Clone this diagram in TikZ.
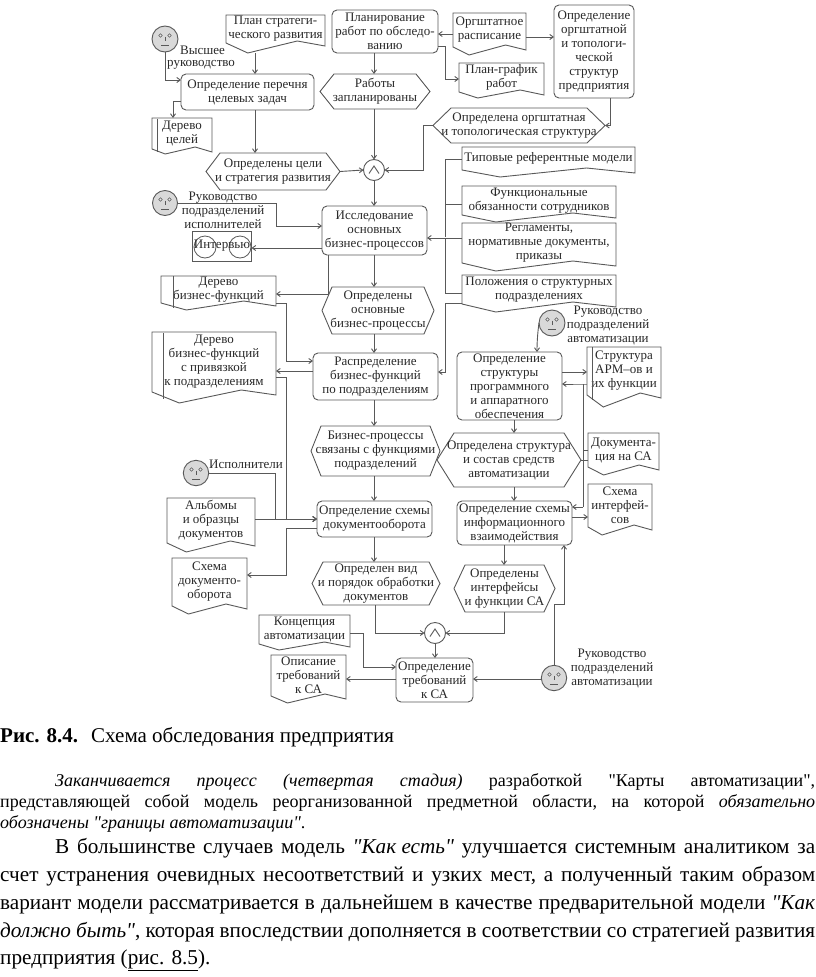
\documentclass[tikz,border=0pt]{standalone}
\usepackage{fontspec}
\setmainfont{Liberation Serif}
\newfontfamily\qfont{Liberation Serif}
\usetikzlibrary{arrows.meta,calc}
\definecolor{ln}{gray}{0.35}
\definecolor{tx}{gray}{0.16}
\definecolor{fc}{gray}{0.85}
\newcommand{\qq}{{\qfont\char34}}
\tikzset{
 shp/.style={draw=ln,line width=0.9pt,line join=miter},
 anch/.style={inner sep=0pt,outer sep=0pt},
 txt/.style={text=tx,align=center,inner sep=0pt,font=\fontsize{13}{14}\selectfont},
 ltxt/.style={text=tx,align=left,inner sep=0pt,font=\fontsize{13}{14}\selectfont},
 roundbox/.style={shp,rounded corners=5pt,inner sep=0pt,outer sep=0pt,text=tx,align=center,font=\fontsize{13}{14}\selectfont},
 con/.style={draw=ln,line width=0.9pt,-{Straight Barb[length=3.5pt,width=5pt]}},
 plain/.style={draw=ln,line width=0.9pt},
 body/.style={anchor=west,inner sep=0pt,font=\fontsize{21.2}{23}\selectfont,text=black},
 small/.style={anchor=west,inner sep=0pt,font=\fontsize{18}{20}\selectfont,text=black},
}
% document shape: [dip]{name}{x1}{y1}{x2}{y2}{text}
\newcommand{\Doc}[7][6]{%
 \pgfmathsetmacro\dw{#5-#3}\pgfmathsetmacro\dh{#6-#4}
 \pgfmathsetmacro\dcx{(#3+#5)/2}\pgfmathsetmacro\dcy{(#4+#6)/2}
 \pgfmathsetmacro\dty{(#4+#6-#1)/2}
 \pgfmathsetmacro\dxa{#3+0.22*\dw}\pgfmathsetmacro\dxb{#3+0.72*\dw}
 \pgfmathsetmacro\dyb{#6-#1}\pgfmathsetmacro\dyc{#6-#1-2}\pgfmathsetmacro\dyd{#6-#1+3}
 \node[anch,minimum width=\dw pt,minimum height=\dh pt] (#2) at (\dcx,\dcy) {};
 \draw[shp] (#3,#4) -- (#5,#4) -- (#5,\dyd) -- (\dxb,\dyc) -- (\dxa,#6) -- (#3,\dyb) -- cycle;
 \node[txt] (#2-t) at (\dcx,\dty) {#7};
}
% hexagon: [inset]{name}{x1}{y1}{x2}{y2}{text}
\newcommand{\Hex}[7][14]{%
 \pgfmathsetmacro\dw{#5-#3}\pgfmathsetmacro\dh{#6-#4}
 \pgfmathsetmacro\dcx{(#3+#5)/2}\pgfmathsetmacro\dcy{(#4+#6)/2}
 \pgfmathsetmacro\dxa{#3+#1}\pgfmathsetmacro\dxb{#5-#1}
 \node[anch,minimum width=\dw pt,minimum height=\dh pt] (#2) at (\dcx,\dcy) {};
 \draw[shp] (#3,\dcy) -- (\dxa,#4) -- (\dxb,#4) -- (#5,\dcy) -- (\dxb,#6) -- (\dxa,#6) -- cycle;
 \node[txt] (#2-t) at (\dcx,\dcy) {#7};
}
% rounded function box: {name}{x1}{y1}{x2}{y2}{text}
\newcommand{\Fn}[6]{%
 \pgfmathsetmacro\dw{#4-#2}\pgfmathsetmacro\dh{#5-#3}
 \pgfmathsetmacro\dcx{(#2+#4)/2}\pgfmathsetmacro\dcy{(#3+#5)/2}
 \node[roundbox,draw,minimum width=\dw pt,minimum height=\dh pt] (#1) at (\dcx,\dcy) {#6};
}
% face: {name}{cx}{cy}{r}
\newcommand{\Face}[4]{%
 \node[circle,draw=ln,fill=fc,line width=0.9pt,minimum size=#4*2pt,inner sep=0pt,outer sep=0pt] (#1) at (#2,#3) {};
 \fill[fc!60!white,draw=ln,line width=0.6pt] ($(#1)+(-4.5,-3.5)$) circle (1.7pt) ($(#1)+(4.5,-3.5)$) circle (1.7pt);
 \draw[ln,line width=0.7pt] ($(#1)+(0,-2.5)$) -- ($(#1)+(0,2)$) ($(#1)+(-4,6)$) -- ($(#1)+(4,6)$);
}
% AND connector
\newcommand{\Andc}[3]{%
 \node[circle,draw=ln,line width=0.9pt,minimum size=21pt,inner sep=0pt,outer sep=0pt] (#1) at (#2,#3) {};
 \draw[ln,line width=0.9pt] ($(#1)+(-5,3.5)$) -- ($(#1)+(0,-4)$) -- ($(#1)+(5,3.5)$);
}
\begin{document}
\begin{tikzpicture}[x=1pt,y=-1pt]
\useasboundingbox (0,0) rectangle (816,977);
\fill[white] (0,0) rectangle (816,977);
% ---- shapes
\Face{f1}{165}{39}{13}
\node[ltxt,anchor=west] (f1a) at (180,50) {Высшее};
\node[ltxt,anchor=west] (f1b) at (167,65) {руководство};
\Doc[10]{plan}{226}{15}{325}{53}{План стратеги-\\ческого развития}
\Fn{pr}{332}{10}{438}{53}{Планирование\\работ по обследо-\\ванию}
\Doc[8]{orgsh}{453}{13}{526}{55}{Оргштатное\\расписание}
\Fn{orgt}{554}{5}{634}{98}{Определение\\оргштатной\\и топологи-\\ческой\\структур\\предприятия}
\Doc[6]{pg}{459}{63}{544}{98}{План-график\\работ}
\Fn{zad}{181}{74}{314}{110}{Определение перечня\\целевых задач}
\Hex{rz}{320}{74}{430}{109}{Работы\\запланированы}
\Hex[18]{orgd}{433}{108}{605}{143}{Определена оргштатная\\и топологическая структура}
\Doc[5]{dc}{152}{118}{212}{154}{Дерево\\целей}
\draw[shp] (157,119) -- (157,152);
\Hex[14]{celi}{206}{153}{340}{190}{Определены цели\\и стратегия развития}
\Andc{a1}{374}{170}
\Doc[7]{tip}{462}{147}{635}{177}{Типовые референтные модели}
\Doc[7]{fun}{462}{186}{616}{222}{Функциональные\\обязанности сотрудников}
\Doc[8]{reg}{462}{223}{616}{271}{Регламенты,\\нормативные документы,\\приказы}
\Doc[8]{pol}{462}{275}{616}{312}{Положения о структурных\\подразделениях}
\Face{f2}{165}{203}{12.5}
\node[txt] (f2t) at (223,210) {Руководство\\подразделений\\исполнителей};
\Fn{iss}{322}{206}{427}{255}{Исследование\\основных\\бизнес-процессов}
\node[anch,draw=ln,line width=0.9pt,minimum width=59pt,minimum height=30pt] (intv) at (222,246) {};
\node[circle,draw=ln,line width=0.8pt,minimum size=22pt,inner sep=0pt] (ic1) at (205,247) {};
\node[circle,draw=ln,line width=0.8pt,minimum size=22pt,inner sep=0pt] (ic2) at (240,247) {};
\node[txt] (intt) at (222,246) {Интервью};
\Doc[7]{dbf}{161}{276}{276}{310}{Дерево\\бизнес-функций}
\draw[shp] (173,276) -- (173,308);
\Hex[10]{opo}{322}{287}{434}{334}{Определены\\основные\\бизнес-процессы}
\Doc[11]{dbp}{152}{332}{276}{403}{Дерево\\бизнес-функций\\с привязкой\\к подразделениям}
\draw[shp] (163,333) -- (163,399);
\Fn{rasp}{313}{353}{438}{400}{Распределение\\бизнес-функций\\по подразделениям}
\Face{f3}{552}{323}{13}
\node[txt] (f3t) at (608,325) {Руководство\\подразделений\\автоматизации};
\Fn{ops}{457}{352}{562}{420}{Определение\\структуры\\программного\\и аппаратного\\обеспечения}
\Doc[12]{arm}{587}{347}{661}{407}{Структура\\АРМ–ов и\\их функции}
\draw[shp] (592,347) -- (592,400);
\Hex[10]{bps}{311}{426}{440}{476}{Бизнес-процессы\\связаны с функциями\\подразделений}
\Hex[17]{ost}{437}{433}{581}{487}{Определена структура\\и состав средств\\автоматизации}
\Doc[8]{docs}{588}{433}{659}{475}{Документа-\\ция на СА}
\Face{f4}{196}{473}{12.7}
\node[ltxt,anchor=west] (f4t) at (209,464) {Исполнители};
\Doc[9]{alb}{167}{498}{255}{552}{Альбомы\\и образцы\\документов}
\Fn{osd}{317}{501}{432}{537}{Определение схемы\\документооборота}
\Fn{osi}{457}{501}{572}{545}{Определение схемы\\информационного\\взаимодействия}
\Doc[8]{sin}{588}{484}{652}{535}{Схема\\интерфей-\\сов}
\Doc[8]{sdo}{172}{558}{247}{614}{Схема\\документо-\\оборота}
\Hex[11]{vid}{312}{562}{440}{605}{Определен вид\\и порядок обработки\\документов}
\Hex[11]{intf}{454}{565}{555}{612}{Определены\\интерфейсы\\и функции СА}
\Doc[6]{kon}{259}{615}{350}{650}{Концепция\\автоматизации}
\Andc{a2}{435}{633}
\Doc[7]{opi}{271}{655}{346}{703}{Описание\\требований\\к СА}
\Fn{treb}{396}{658}{473}{702}{Определение\\требований\\к СА}
\Face{f5}{554}{678}{12.7}
\node[txt] (f5t) at (612,668) {Руководство\\подразделений\\автоматизации};
% ---- connectors
\draw[con] (f1.south) |- (zad.west |- 0,80);
\draw[con] (plan.south -| 255,0) -- (zad.north -| 255,0);
\draw[con] (zad.west |- 0,101) -| (dc.north -| 173,0);
\draw[con] (zad.south -| 255,0) -- (celi.north -| 255,0);
\draw[con] (pr.south -| 374,0) -- (rz.north -| 374,0);
\draw[con] (orgsh.west |- 0,34) -- (pr.east |- 0,34);
\draw[con] (orgsh.east |- 0,37) -- (orgt.west |- 0,37);
\draw[con] (pr.east |- 0,46) -- (445,46) |- (pg.west |- 0,79);
\draw[con] (rz.south -| 374,0) -- (a1.north);
\draw[con] (celi.east) -- (a1.west);
\draw[con] (orgd.west) -- (423,125.5) |- (a1.east);
\draw[con] (orgt.south -| 610,0) |- (orgd.east);
\draw[con] (a1.south) -- (iss.north -| 374,0);
\draw[plain] (tip.west |- 0,159) -| (445,237);
\draw[plain] (fun.west |- 0,204) -- (445,204);
\draw[con] (reg.west |- 0,238) -- (iss.east |- 0,238);
\draw[plain] (pol.west |- 0,293) -| (445,238);
\draw[con] (pol.west |- 0,303) -| (445,372) -- (rasp.east |- 0,372);
\draw[con] (f2.east) -- (276,203) |- (iss.west |- 0,226);
\draw[con] (iss.west |- 0,248) -- (intv.east |- 0,248);
\draw[con] (iss.south -| 328,0) |- (dbf.east |- 0,294);
\draw[con] (iss.south -| 374,0) -- (opo.north -| 374,0);
\draw[con] (opo.south -| 374,0) -- (rasp.north -| 374,0);
\draw[con] (dbf.east |- 0,303) -| (286,361) -- (rasp.west |- 0,361);
\draw[con] (rasp.west |- 0,371) -- (dbp.east |- 0,371);
\draw[con] (dbp.east |- 0,377) -| (286,519) -- (osd.west |- 0,519);
\draw[con] (rasp.south -| 374,0) -- (bps.north -| 374,0);
\draw[con] (bps.south -| 374,0) -- (osd.north -| 374,0);
\draw[con] (f4.east) -- (275,473) |- (osd.west |- 0,519);
\draw[con] (alb.east |- 0,519) -- (osd.west |- 0,519);
\draw[con] (osd.west |- 0,528) -| (286,575) -- (sdo.east |- 0,575);
\draw[con] (osd.south -| 374,0) -- (vid.north -| 374,0);
\draw[con] (vid.south -| 375,0) |- (a2.west);
\draw[con] (intf.south -| 504,0) |- (a2.east);
\draw[con] (a2.south) -- (treb.north -| 435,0);
\draw[con] (kon.east |- 0,633) -- (363,633) |- (treb.west |- 0,667);
\draw[con] (treb.west |- 0,679) -- (opi.east |- 0,679);
\draw[con] (f5.west |- 0,679) -- (treb.east |- 0,679);
\draw[con] (f5.north) |- (564,604) -- (osi.south -| 564,0);
\draw[con] (osi.south -| 504,0) -- (intf.north -| 504,0);
\draw[con] (ost.south -| 514,0) -- (osi.north -| 514,0);
\draw[con] (ops.south -| 514,0) -- (ost.north -| 514,0);
\draw[con] (f3.west) .. controls (538,330) and (537,340) .. (ops.north -| 537,0);
\draw[con] (ops.east |- 0,372) -- (arm.west |- 0,372);
\draw[con] (arm.west |- 0,384) -- (583,384) -- (ops.east |- 0,384);
\draw[plain] (docs.west |- 0,450) -- (583,450);
\draw[plain] (583,384) -- (583,507);
\draw[con] (583,507) -- (osi.east |- 0,507);
\draw[plain] (ost.east |- 0,460) -- (docs.west |- 0,460);
\draw[con] (osi.east |- 0,517) -- (sin.west |- 0,517);
% ---- caption and text
\node[body,font=\fontsize{21}{23}\selectfont] (cap) at (0,737) {\textbf{Рис. 8.4.}\hspace{6pt} Схема обследования предприятия};
\node[small] (l1) at (55,782) {\hbox to 760pt{\textit{Заканчивается} \hfil \textit{процесс} \hfil \textit{(четвертая} \hfil \textit{стадия)} \hfil разработкой \hfil \qq Карты \hfil автоматизации\qq,}};
\node[small] (l2) at (0,803) {\hbox to 815pt{представляющей \hfil собой \hfil модель \hfil реорганизованной \hfil предметной \hfil области, \hfil на \hfil которой \hfil \textit{обязательно}}};
\node[small] (l3) at (0,824) {\textit{обозначены \qq границы автоматизации\qq}.};
\node[body] (l4) at (55,848) {\hbox to 760pt{В \hfil большинстве \hfil случаев \hfil модель \hfil \textit{\qq Как есть\qq} \hfil улучшается \hfil системным \hfil аналитиком \hfil за}};
\node[body] (l5) at (0,876) {\hbox to 815pt{счет \hfil устранения \hfil очевидных \hfil несоответствий \hfil и \hfil узких \hfil мест, \hfil а \hfil полученный \hfil таким \hfil образом}};
\node[body] (l6) at (0,904) {\hbox to 815pt{вариант \hfil модели \hfil рассматривается \hfil в \hfil дальнейшем \hfil в \hfil качестве \hfil предварительной \hfil модели \hfil \textit{\qq Как}}};
\node[body] (l7) at (0,932) {\hbox to 815pt{\textit{должно быть\qq}, \hfil которая \hfil впоследствии \hfil дополняется \hfil в \hfil соответствии \hfil со \hfil стратегией \hfil развития}};
\node[body] (l8) at (0,960) {предприятия (\underline{рис. 8.5}).};
\end{tikzpicture}
\end{document}
